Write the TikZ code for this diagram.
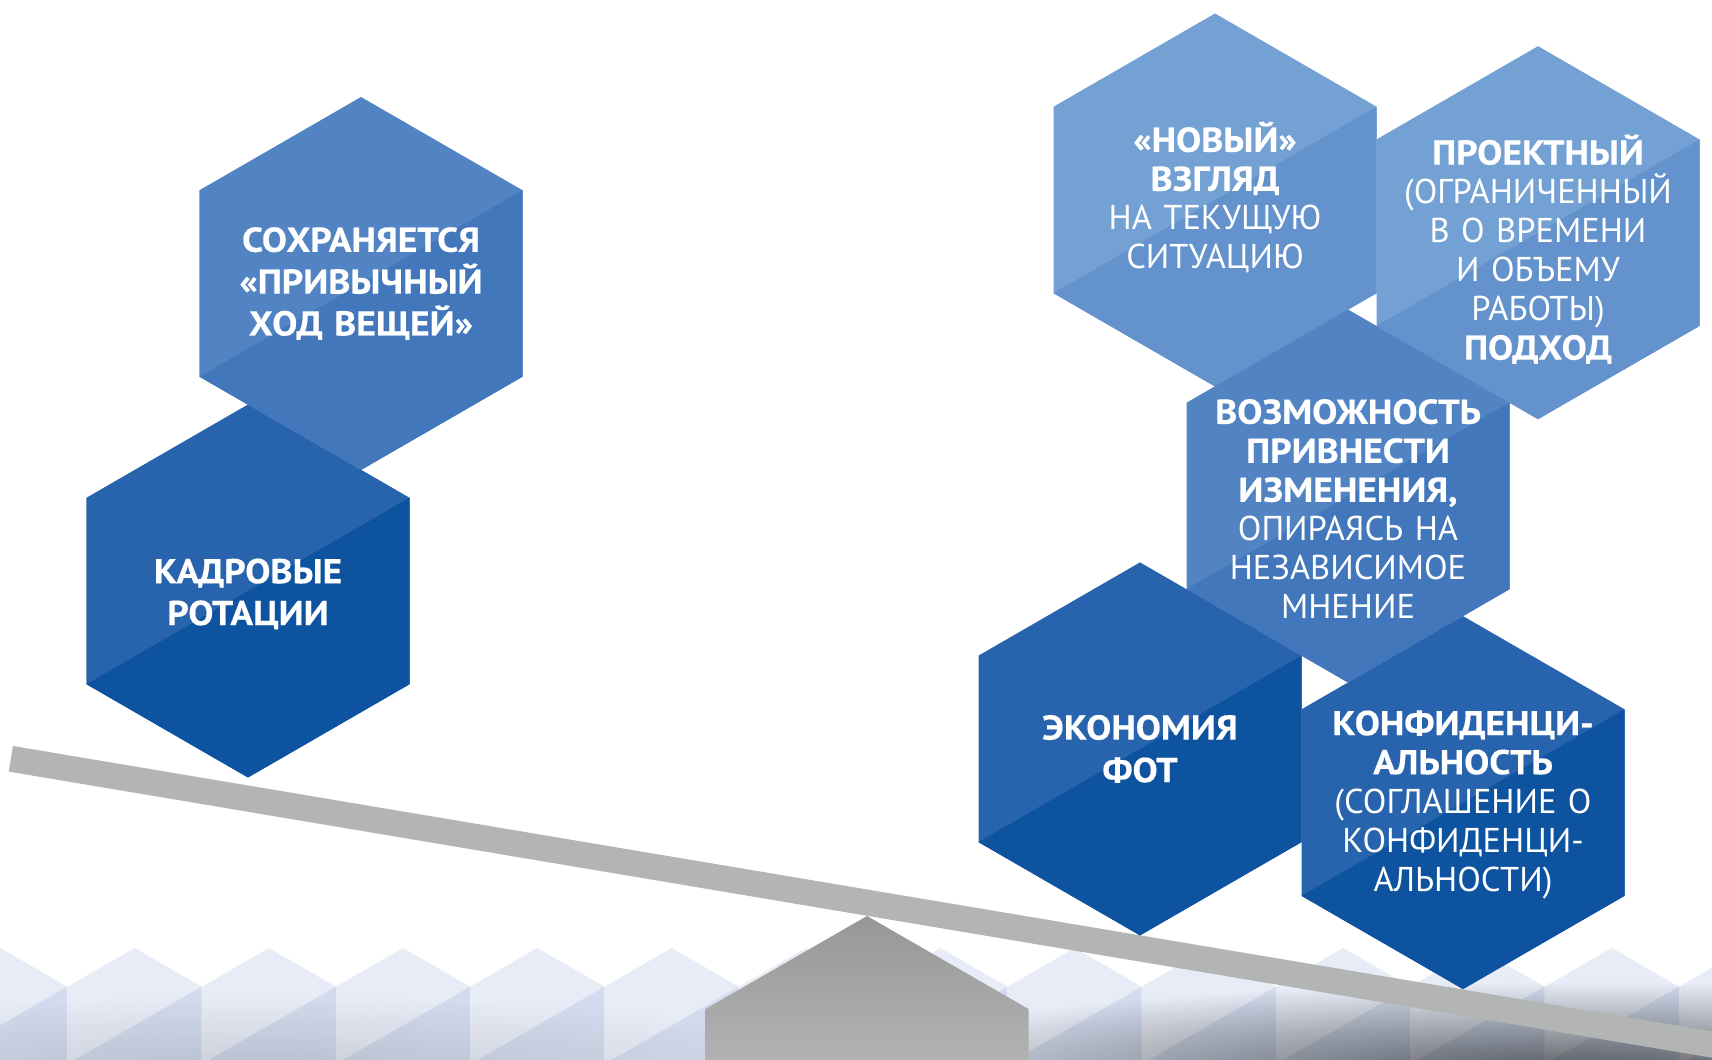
\documentclass[tikz,border=0pt]{standalone}
\usepackage{fontspec}
\setmainfont{PT Sans}[BoldFeatures={FakeStretch=1.09,FakeBold=0.4}]
\usetikzlibrary{shapes.geometric,fadings}

\definecolor{skyA}{HTML}{74A1D4}
\definecolor{skyB}{HTML}{6392CC}
\definecolor{midA}{HTML}{5284C4}
\definecolor{midB}{HTML}{4277BB}
\definecolor{deepA}{HTML}{2764AD}
\definecolor{deepB}{HTML}{0E53A0}
\definecolor{paleA}{HTML}{E8ECF7}
\definecolor{paleB}{HTML}{D2DCEE}
\definecolor{beamgray}{HTML}{B3B5B4}
\definecolor{pivotdark}{HTML}{979797}
\definecolor{pivotmid}{HTML}{AFB0AF}
\definecolor{pivotlight}{HTML}{B3B4B3}

\tikzfading[name=fade out, inner color=transparent!0, outer color=transparent!100]

\begin{document}
\begin{tikzpicture}[hex node/.style 2 args={regular polygon, regular polygon sides=6, shape border rotate=30, minimum size=3.73cm, inner sep=0pt, outer sep=0pt, fill=#1,
      path picture={\fill[#2] (path picture bounding box.center) ++(30:5cm) -- ++(210:10cm) -- ++(0,-6cm) -- ++(10cm,0) -- cycle;}},
    tile node/.style={hex node={paleA}{paleB}, minimum size=1.548cm},
    hex text/.style={text=white, align=center, text width=3.1cm, inner sep=0pt, font=\fontsize{9.8pt}{#1}\selectfont},
    hex text/.default=11.1pt]

  \useasboundingbox (0,0) rectangle (17.12,10.60);
  \fill[white] (0,0) rectangle (17.12,10.60);
  \clip (0,0) rectangle (17.12,10.60);

  % pale row at the bottom
  \foreach \k in {-1,...,12}
    \node[tile node] (b\k) at ({1.345+1.343*\k},0.346) {};

  \fill[black, opacity=0.6, path fading=fade out] (15.8,-0.12) ellipse (7.5cm and 0.9cm);
  \fill[black, opacity=0.12, path fading=fade out] (2.6,-0.05) ellipse (6cm and 0.7cm);

  % seesaw
  \shade[top color=pivotdark, middle color=pivotmid, bottom color=pivotlight]
    (8.67,1.44) -- (10.285,0.51) -- (10.285,-0.1) -- (7.055,-0.1) -- (7.055,0.51) -- cycle;
  \fill[beamgray] (0.13,3.14) -- (18.0,0.138) -- (17.957,-0.118) -- (0.087,2.884) -- cycle;

  \node[hex node={deepA}{deepB}] (2) at (2.48,4.69) {};
  \node[hex node={midA}{midB}] (1) at (3.61,7.765) {};
  \node[hex node={skyA}{skyB}] (3) at (12.15,8.60) {};
  \node[hex node={skyA}{skyB}] (4) at (15.38,8.273) {};
  \node[hex node={midA}{midB}] (5) at (13.48,5.64) {};
  \node[hex node={deepA}{deepB}] (6) at (11.40,3.111) {};
  \node[hex node={deepA}{deepB}] (7) at (14.63,2.574) {};

  \node[hex text=11.9pt] (1t) at (1) {\textbf{СОХРАНЯЕТСЯ\\«ПРИВЫЧНЫЙ\\ХОД ВЕЩЕЙ»}};
  \node[hex text=11.9pt, yshift=-0.3mm] (2t) at (2) {\textbf{КАДРОВЫЕ\\РОТАЦИИ}};
  \node[hex text, yshift=0.25mm] (3t) at (3) {\textbf{«НОВЫЙ»\\ВЗГЛЯД}\\НА ТЕКУЩУЮ\\СИТУАЦИЮ};
  \node[hex text, yshift=-1.65mm] (4t) at (4) {\textbf{ПРОЕКТНЫЙ}\\(ОГРАНИЧЕННЫЙ\\В О ВРЕМЕНИ\\И ОБЪЕМУ\\РАБОТЫ)\\\textbf{ПОДХОД}};
  \node[hex text, yshift=-1.3mm] (5t) at (5) {\textbf{ВОЗМОЖНОСТЬ\\ПРИВНЕСТИ\\ИЗМЕНЕНИЯ,}\\ОПИРАЯСЬ НА\\НЕЗАВИСИМОЕ\\МНЕНИЕ};
  \node[hex text=12.1pt] (6t) at (6) {\textbf{ЭКОНОМИЯ\\ФОТ}};
  \node[hex text, yshift=-0.2mm] (7t) at (7) {\textbf{КОНФИДЕНЦИ-\\АЛЬНОСТЬ}\\(СОГЛАШЕНИЕ О\\КОНФИДЕНЦИ-\\АЛЬНОСТИ)};

\end{tikzpicture}
\end{document}
